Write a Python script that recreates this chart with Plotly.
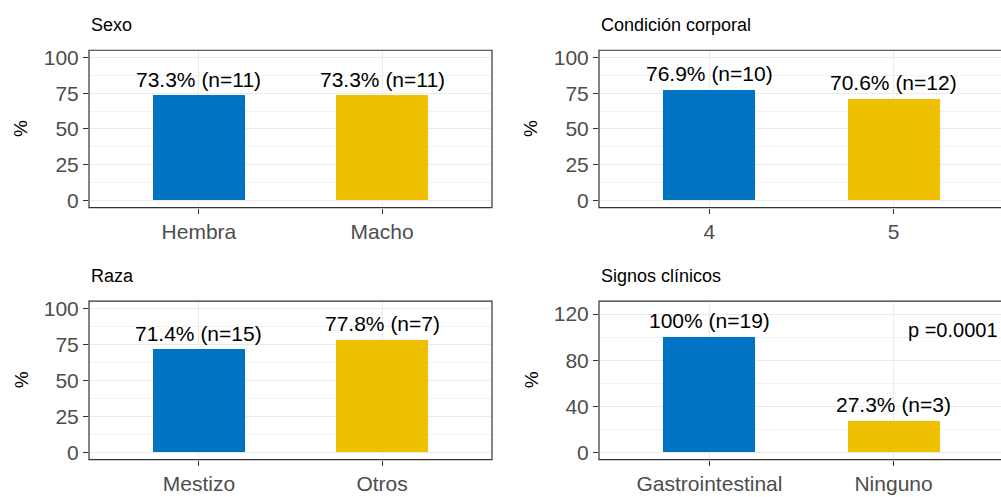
import plotly.graph_objects as go

# Percentages (with counts) per group, one panel per factor
sexo_cats = ["Hembra", "Macho"]
sexo_pct = [73.3, 73.3]
sexo_n = [11, 11]

condicion_cats = ["4", "5"]
condicion_pct = [76.9, 70.6]
condicion_n = [10, 12]

raza_cats = ["Mestizo", "Otros"]
raza_pct = [71.4, 77.8]
raza_n = [15, 7]

signos_cats = ["Gastrointestinal", "Ninguno"]
signos_pct = [100, 27.3]
signos_n = [19, 3]

panel_titles = ["Sexo", "Condición corporal", "Raza", "Signos clínicos"]
p_text = "p =0.0001"

BAR_COLORS = ["#0073C2", "#EFC000"]
W, H = 1001, 497
FONT = "Liberation Sans, Arial, sans-serif"

panels = [
    dict(cats=sexo_cats, pct=sexo_pct, n=sexo_n, title=panel_titles[0],
         px=(89, 492), py=(47, 207), yr=[-5, 105], major=25, minor=12.5),
    dict(cats=condicion_cats, pct=condicion_pct, n=condicion_n, title=panel_titles[1],
         px=(599, 1004), py=(47, 207), yr=[-5, 105], major=25, minor=12.5),
    dict(cats=raza_cats, pct=raza_pct, n=raza_n, title=panel_titles[2],
         px=(89, 492), py=(302, 463), yr=[-5, 105], major=25, minor=12.5),
    dict(cats=signos_cats, pct=signos_pct, n=signos_n, title=panel_titles[3],
         px=(599, 1004), py=(302, 463), yr=[-6.25, 131.25], major=40, minor=20),
]


def fmt_label(v, n):
    s = f"{v:.1f}".rstrip("0").rstrip(".")
    return f"{s}% (n={n})"


fig = go.Figure()
annotations = []
shapes = []

for i, p in enumerate(panels, start=1):
    xa = "x" if i == 1 else f"x{i}"
    ya = "y" if i == 1 else f"y{i}"
    xkey = "xaxis" if i == 1 else f"xaxis{i}"
    ykey = "yaxis" if i == 1 else f"yaxis{i}"

    x0, x1 = p["px"]
    y0, y1 = p["py"]
    unit = (x1 - x0) / 2.2
    vis_right = min(x1, W)
    xr = [0.4, 0.4 + (vis_right - x0) / unit]

    xs = list(range(1, len(p["cats"]) + 1))
    fig.add_trace(go.Bar(
        x=xs, y=p["pct"], width=0.5,
        marker=dict(color=BAR_COLORS, line=dict(width=0)),
        xaxis=xa, yaxis=ya, showlegend=False, hoverinfo="skip",
    ))

    fig.layout[xkey] = dict(
        domain=[x0 / W, vis_right / W], range=xr, anchor=ya,
        tickvals=xs, ticktext=p["cats"],
        showgrid=True, gridcolor="#EBEBEB", gridwidth=1.2,
        zeroline=False, showline=False,
        ticks="outside", ticklen=5, tickwidth=1.2, tickcolor="#333333",
        tickfont=dict(family=FONT, size=21, color="#4D4D4D"),
        fixedrange=True,
    )
    fig.layout[ykey] = dict(
        domain=[1 - y1 / H, 1 - y0 / H], range=p["yr"], anchor=xa,
        tick0=0, dtick=p["major"],
        showgrid=True, gridcolor="#EBEBEB", gridwidth=1.2,
        minor=dict(tick0=0, dtick=p["minor"], showgrid=True,
                   gridcolor="#F2F2F2", gridwidth=0.8, ticks=""),
        zeroline=False, showline=False,
        ticks="outside", ticklen=5, tickwidth=1.2, tickcolor="#333333",
        tickfont=dict(family=FONT, size=21, color="#4D4D4D"),
        fixedrange=True,
    )

    # panel border
    shapes.append(dict(type="rect", xref="paper", yref="paper",
                       x0=x0 / W, x1=x1 / W, y0=1 - y1 / H, y1=1 - y0 / H,
                       line=dict(color="#333333", width=1.2), fillcolor="rgba(0,0,0,0)",
                       layer="above"))

    # panel title
    annotations.append(dict(text=p["title"], xref="paper", yref="paper",
                            x=x0 / W, y=1 - (y0 - 26) / H, xanchor="left", yanchor="middle",
                            showarrow=False, font=dict(family=FONT, size=18, color="#000000")))

    # y-axis title
    annotations.append(dict(text="%", xref="paper", yref="paper",
                            x=(x0 - 68) / W, y=1 - ((y0 + y1) / 2) / H,
                            xanchor="center", yanchor="middle", textangle=-90,
                            showarrow=False, font=dict(family=FONT, size=19, color="#000000")))

    # value labels above bars
    for xv, v, n in zip(xs, p["pct"], p["n"]):
        annotations.append(dict(text=fmt_label(v, n), xref=xa, yref=ya,
                                x=xv, y=v, xanchor="center", yanchor="bottom", yshift=3,
                                showarrow=False, font=dict(family=FONT, size=21, color="#000000")))

# p-value note in the clinical signs panel
annotations.append(dict(text=p_text, xref="x4", yref="y4", x=2.07, y=106.5,
                        xanchor="left", yanchor="middle", showarrow=False,
                        font=dict(family=FONT, size=20, color="#000000")))

fig.update_layout(
    width=W, height=H,
    margin=dict(l=0, r=0, t=0, b=0),
    paper_bgcolor="white", plot_bgcolor="white",
    annotations=annotations, shapes=shapes,
    bargap=0,
)

fig.write_html("out.html", config={"displayModeBar": False})
